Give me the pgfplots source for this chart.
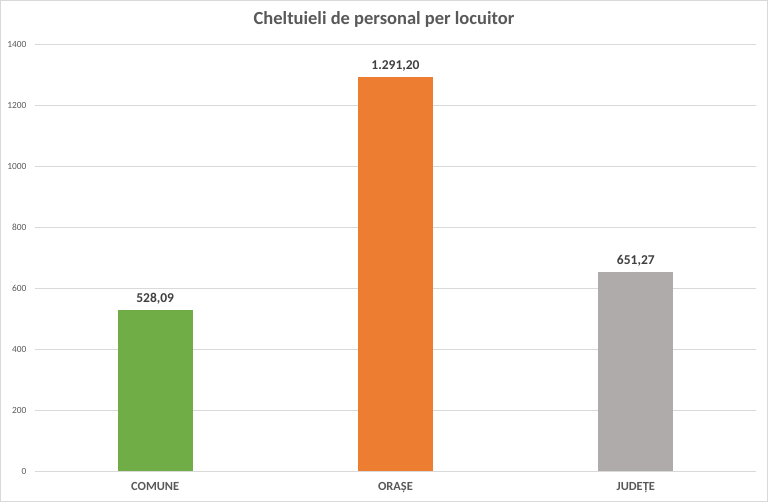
\documentclass[border=0pt]{standalone}
\usepackage{pgfplots}
\pgfplotsset{compat=1.18}
\usepackage{fontspec}
\setmainfont{Carlito}
\definecolor{txt}{HTML}{595959}
\definecolor{lbl}{HTML}{404040}
\definecolor{grd}{HTML}{D9D9D9}
\definecolor{cgreen}{HTML}{70AD47}
\definecolor{corange}{HTML}{ED7D31}
\definecolor{cgray}{HTML}{AFABAB}
\begin{document}
\begin{tikzpicture}
\useasboundingbox (0pt,0pt) rectangle (768pt,502pt);
\fill[white] (0pt,0pt) rectangle (768pt,502pt);
\draw[grd,line width=1pt] (0.5pt,0.5pt) rectangle (767.5pt,501.5pt);
\node[anchor=base,text=txt,font=\fontsize{18.5}{20}\selectfont\bfseries] at (384pt,477pt) {Cheltuieli de personal per locuitor};
\begin{axis}[
  at={(35pt,31pt)}, anchor=south west,
  scale only axis, width=721pt, height=427pt,
  ymin=0, ymax=1400, ytick={0,200,...,1400},
  xmin=-0.5, xmax=2.5,
  xtick={0,1,2}, xticklabels={COMUNE,ORAȘE,JUDEȚE},
  ymajorgrids, grid style={grd,line width=0.8pt},
  axis line style={draw=none},
  axis x line*=bottom,
  axis y line*=left,
  tick style={draw=none},
  x axis line style={grd,line width=0.8pt},
  yticklabel style={font=\fontsize{9.4}{10}\selectfont, text=txt, xshift=-5pt},
  xticklabel style={font=\fontsize{12.4}{13}\selectfont\bfseries, text=txt, yshift=-4pt},
  /pgf/number format/assume math mode=true,
  /pgf/number format/1000 sep={},
  ybar, bar width=75pt, bar shift=0pt,
  nodes near coords,
  point meta=explicit symbolic,
  every node near coord/.append style={font=\fontsize{13.5}{14}\selectfont\bfseries, text=lbl, yshift=2pt},
  clip=false,
]
\addplot[fill=cgreen, draw=none] coordinates {(0,528.09) [528,09]};
\addplot[fill=corange, draw=none] coordinates {(1,1291.20) [1.291,20]};
\addplot[fill=cgray, draw=none] coordinates {(2,651.27) [651,27]};
\end{axis}
\end{tikzpicture}
\end{document}
